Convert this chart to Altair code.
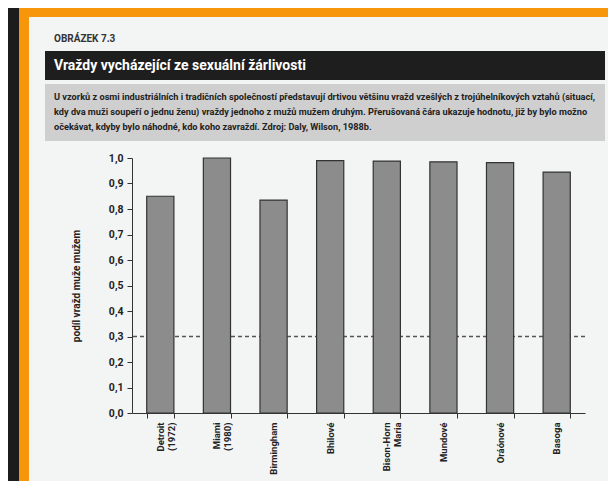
import altair as alt
import pandas as pd

# ---- data ----
categories = ["Detroit|(1972)", "Miami|(1980)", "Birmingham", "Bhilové",
              "Bison-Horn|Maria", "Mundové", "Oráónové", "Basoga"]
shares = [0.85, 1.0, 0.835, 0.99, 0.988, 0.985, 0.982, 0.945]
expected = 0.30
y_ticks = [0.0, 0.1, 0.2, 0.3, 0.4, 0.5, 0.6, 0.7, 0.8, 0.9, 1.0]

label_fig = "OBRÁZEK 7.3"
title_text = "Vraždy vycházející ze sexuální žárlivosti"
caption_lines = [
    "U vzorků z osmi industriálních i tradičních společností představují drtivou většinu vražd vzešlých z trojúhelníkových vztahů (situací,",
    "kdy dva muži soupeří o jednu ženu) vraždy jednoho z mužů mužem druhým. Přerušovaná čára ukazuje hodnotu, již by bylo možno",
    "očekávat, kdyby bylo náhodné, kdo koho zavraždí. Zdroj: Daly, Wilson, 1988b.",
]
y_title = "podíl vražd muže mužem"

FONT = "Roboto, Liberation Sans, sans-serif"

df = pd.DataFrame({"cat": categories, "share": shares})
rule_df = pd.DataFrame({"share": [expected]})

# plot-area origin on the page (used only for decorative frame / header)
OX, OY = 132, 158
W, H = 453, 255


def px(x):
    return x - OX


def py(y):
    return y - OY


one = alt.Data(values=[{"a": 1}])


def rect(x1, y1, x2, y2, color):
    return alt.Chart(one).mark_rect(color=color).encode(
        x=alt.value(px(x1)), x2=alt.value(px(x2)),
        y=alt.value(py(y1)), y2=alt.value(py(y2)))


def text(t, x, y, size, color, weight="bold"):
    return alt.Chart(one).mark_text(
        text=t, align="left", baseline="alphabetic", font=FONT,
        fontSize=size, fontWeight=weight, color=color).encode(
        x=alt.value(px(x)), y=alt.value(py(y)))


orange = rect(19, 6, 640, 500, "#f7960a")
white = rect(29, 17, 640, 485, "#f3f4f4")
black_bar = rect(45, 51, 605, 80, "#1e1e1e")
gray_box = rect(45, 84, 605, 141, "#cfcfcf")

t_fig = text(label_fig, 54, 42, 10, "#333333")
t_title = text(title_text, 54, 70, 14, "#ffffff")
t_caps = [text(line, 54, 100 + 15 * i, 9.2, "#222222")
          for i, line in enumerate(caption_lines)]

y_axis = alt.Axis(values=y_ticks, grid=False, labelOverlap=False,
                  labelExpr="replace(format(datum.value, '.1f'), '.', ',')",
                  labelFont=FONT, labelFontSize=10.5, labelFontWeight="bold",
                  labelColor="#222222", labelPadding=4, tickSize=5,
                  tickColor="#333333", domainColor="#333333",
                  titleFont=FONT, titleFontSize=10, titleFontWeight="bold",
                  titleColor="#222222", titlePadding=27, zindex=1)
y_scale = alt.Scale(domain=[0, 1], nice=False)

bars = alt.Chart(df).mark_bar(
    fill="#8c8c8c", stroke="#333333", strokeWidth=1.2
).encode(
    x=alt.X("cat:N", sort=None, title=None,
            scale=alt.Scale(paddingInner=0.52, paddingOuter=0.26),
            axis=alt.Axis(labelAngle=-90,
                          labelExpr="datum.value ? split(datum.value, '|') : ''",
                          labelFont=FONT, labelFontSize=9.5, labelFontWeight="bold",
                          labelColor="#222222", labelLineHeight=11,
                          labelPadding=4, tickBand="extent", tickSize=5,
                          tickColor="#333333", domainColor="#333333",
                          labelAlign="right", labelBaseline="middle",
                          labelOverlap=False, zindex=1)),
    y=alt.Y("share:Q", title=y_title, scale=y_scale, axis=y_axis),
)

rule = alt.Chart(rule_df).mark_rule(
    color="#555555", strokeDash=[4, 3], strokeWidth=1.3
).encode(y=alt.Y("share:Q", title=y_title, scale=y_scale, axis=y_axis))

chart = alt.layer(
    orange, white, black_bar, gray_box, t_fig, t_title, *t_caps, rule, bars
).properties(
    width=W, height=H,
    padding={"left": OX - 8, "top": OY - 8, "right": 600 - (OX - 8) - W,
             "bottom": 473 - (OY - 8) - H},
    autosize=alt.AutoSizeParams(type="none"),
    background="#1c1c1c",
).configure_view(stroke=None)

chart.save("out.html", embed_options={"renderer": "svg", "actions": False})
